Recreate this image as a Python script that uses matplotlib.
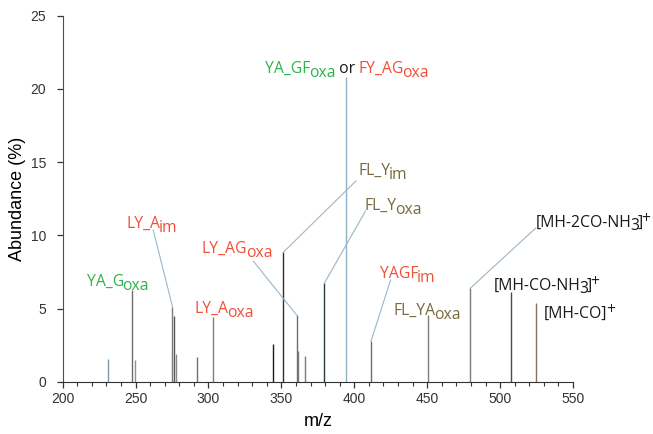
import matplotlib
matplotlib.use("Agg")
import matplotlib.pyplot as plt
from matplotlib.transforms import IdentityTransform

# peak list (m/z, abundance %)
mz = [231.1, 247.3, 249.7, 275.3, 276.4, 277.5, 292.3, 303.3, 344.4, 351.3,
      360.4, 361.3, 366.3, 379.4, 394.6, 411.5, 450.4, 479.5, 507.4, 524.6]
abundance = [1.55, 6.26, 1.5, 5.12, 4.49, 1.89, 1.67, 4.4, 2.58, 8.84,
             4.56, 2.1, 1.78, 6.72, 20.8, 2.78, 4.56, 6.38, 6.15, 5.35]
peak_colors = ["#7f97a6", "#6e6e6e", "#7f97a6", "#7a7a7a", "#555555", "#8a8a8a",
               "#707070", "#8a7a70", "#1a1a1a", "#3a2c24", "#6e6e6e", "#777777",
               "#7a7a7a", "#2b3c3c", "#8fb2c2", "#6e6e6e", "#7d7d7d", "#7a7a7a",
               "#3d4f5a", "#8a6f66"]

x_ticks = [200, 250, 300, 350, 400, 450, 500, 550]
y_ticks = [0, 5, 10, 15, 20, 25]

GREEN = "#2fb34c"
RED = "#f0503a"
OLIVE = "#7a6a40"
BLACK = "#1a1a1a"
LEADER = "#9bb6c6"
LABEL_FONT = "Open Sans"

# annotations: (x, y) of label baseline start, pieces, peak index for leader line
labels = [
    ((338.7, 21.1), [("YA_GF", GREEN, "n"), ("oxa", GREEN, "sub"), (" or ", BLACK, "n"),
                     ("FY_AG", RED, "n"), ("oxa", RED, "sub")], None),
    ((243.9, 10.5), [("LY_A", RED, "n"), ("im", RED, "sub")], 3),
    ((216.5, 6.54), [("YA_G", GREEN, "n"), ("oxa", GREEN, "sub")], None),
    ((290.7, 4.67), [("LY_A", RED, "n"), ("oxa", RED, "sub")], None),
    ((295.3, 8.8), [("LY_AG", RED, "n"), ("oxa", RED, "sub")], 10),
    ((402.7, 14.12), [("FL_Y", OLIVE, "n"), ("im", OLIVE, "sub")], 9),
    ((407.3, 11.73), [("FL_Y", OLIVE, "n"), ("oxa", OLIVE, "sub")], 13),
    ((417.5, 7.06), [("YAGF", RED, "n"), ("im", RED, "sub")], 15),
    ((426.7, 4.56), [("FL_YA", OLIVE, "n"), ("oxa", OLIVE, "sub")], None),
    ((524.5, 10.59), [("[MH-2CO-NH", BLACK, "n"), ("3", BLACK, "sub3"), ("]", BLACK, "n"),
                      ("+", BLACK, "sup")], 17),
    ((495.7, 6.26), [("[MH-CO-NH", BLACK, "n"), ("3", BLACK, "sub3"), ("]", BLACK, "n"),
                     ("+", BLACK, "sup")], None),
    ((530.0, 4.35), [("[MH-CO]", BLACK, "n"), ("+", BLACK, "sup")], None),
]
# where each leader line leaves its label (data coords)
leader_starts = {1: (262.1, 10.36), 4: (330.7, 8.24), 5: (401.1, 13.71),
                 6: (407.7, 11.66), 7: (424.9, 6.95), 9: (524.5, 10.5)}

SHIFT = {"n": 0, "sub": -4, "sub3": -3, "sup": 4}


def rich(ax, renderer, x, y, pieces, size=11.3):
    xd, yd = ax.transData.transform((x, y))
    first = True
    for text, color, kind in pieces:
        if not first and not text.startswith(" "):
            xd -= 1.5
        t = ax.text(xd, yd + SHIFT[kind], text, transform=IdentityTransform(),
                    color=color, fontsize=size, family=LABEL_FONT,
                    ha="left", va="baseline")
        xd = t.get_window_extent(renderer).x1
        first = False


fig = plt.figure(figsize=(6.53, 4.34), dpi=100)
ax = fig.add_axes([0.096, 0.1205, 0.7815, 0.8433])

ax.vlines(mz, 0, abundance, colors=peak_colors, lw=1.0)

for i, (pos, pieces, peak) in enumerate(labels):
    if peak is not None:
        sx, sy = leader_starts[i]
        ax.plot([sx, mz[peak]], [sy, abundance[peak]], color=LEADER, lw=0.8)

ax.set_xlim(200, 550)
ax.set_ylim(0, 25)
ax.set_xticks(x_ticks)
ax.set_xticks(range(200, 551, 10), minor=True)
ax.set_yticks(y_ticks)
for lab in ax.get_xticklabels() + ax.get_yticklabels():
    lab.set_family("Liberation Sans")
ax.tick_params(axis="both", labelsize=10, colors="#333333", width=0.9, length=4)
ax.tick_params(axis="y", pad=8)
ax.tick_params(axis="x", which="minor", length=3, width=0.8, colors="#333333")
ax.spines["top"].set_visible(False)
ax.spines["right"].set_visible(False)
ax.spines["left"].set_color("#7a3e32")
ax.spines["bottom"].set_color("#333333")
ax.set_xlabel("m/z", fontsize=13, family="Liberation Sans", labelpad=5)
ax.set_ylabel("Abundance (%)", fontsize=13, family="Liberation Sans", labelpad=3)

renderer = fig.canvas.get_renderer()
for pos, pieces, peak in labels:
    rich(ax, renderer, pos[0], pos[1], pieces)

fig.savefig("out.png", dpi=100)
